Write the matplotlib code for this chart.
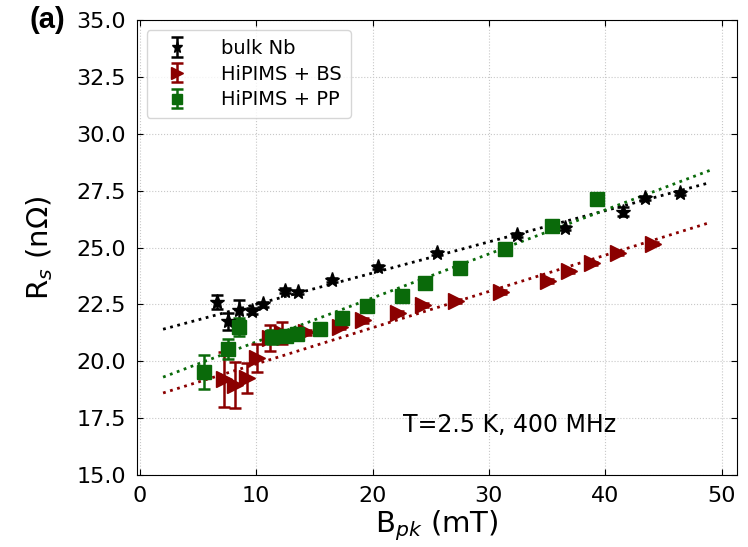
import numpy as np
import matplotlib
matplotlib.use('Agg')
import matplotlib.pyplot as plt

# bulk Nb
nb_b = [6.6, 7.6, 8.5, 9.6, 10.6, 12.5, 13.6, 16.5, 20.5, 25.5, 32.4, 36.5, 41.5, 43.4, 46.4]
nb_r = [22.6, 21.75, 22.25, 22.2, 22.5, 23.1, 23.05, 23.57, 24.14, 24.76, 25.55, 25.86, 26.58, 27.18, 27.4]
nb_e = [0.3, 0.37, 0.45, 0.12, 0.1, 0.1, 0.08, 0.08, 0.08, 0.08, 0.08, 0.1, 0.2, 0.08, 0.08]

# HiPIMS + BS
bs_b = [7.2, 8.2, 9.2, 10.1, 11.2, 12.2, 14.3, 17.2, 19.2, 22.2, 24.3, 27.2, 31.0, 35.1, 36.9, 38.9, 41.1, 44.1]
bs_r = [19.2, 18.96, 19.25, 20.14, 21.0, 21.24, 21.27, 21.5, 21.8, 22.12, 22.47, 22.65, 23.05, 23.52, 23.95, 24.3, 24.76, 25.17]
bs_e = [1.2, 1.0, 0.65, 0.6, 0.57, 0.5, 0.12, 0.1, 0.1, 0.08, 0.08, 0.08, 0.08, 0.08, 0.08, 0.08, 0.08, 0.08]

# HiPIMS + PP
pp_b = [5.5, 7.6, 8.5, 11.4, 12.6, 13.5, 15.5, 17.4, 19.5, 22.5, 24.5, 27.5, 31.4, 35.4, 39.3]
pp_r = [19.53, 20.54, 21.5, 21.07, 21.12, 21.2, 21.4, 21.9, 22.43, 22.87, 23.44, 24.1, 24.95, 25.95, 27.13]
pp_e = [0.75, 0.45, 0.4, 0.3, 0.15, 0.1, 0.1, 0.08, 0.08, 0.08, 0.08, 0.08, 0.08, 0.08, 0.08]

# linear fits (slope, intercept)
fit_nb = (0.1373, 21.13)
fit_bs = (0.1596, 18.28)
fit_pp = (0.1936, 18.91)
fit_x = [2, 49]

fig = plt.figure(figsize=(7.48, 5.47), dpi=100)
ax = fig.add_axes([0.183, 0.132, 0.802, 0.831])

ax.grid(True, ls=':', color='#c8c8c8', lw=0.8)
ax.set_axisbelow(True)

series = [
    (nb_b, nb_r, nb_e, fit_nb, 'black', '*', 11, 'bulk Nb'),
    (bs_b, bs_r, bs_e, fit_bs, '#8b0000', '>', 11, 'HiPIMS + BS'),
    (pp_b, pp_r, pp_e, fit_pp, '#0a6a0a', 's', 10, 'HiPIMS + PP'),
]
for b, r, e, fit, c, m, ms, lab in series:
    ax.errorbar(b, r, yerr=e, fmt=m, color=c, ms=ms, capsize=4.5, elinewidth=1.8,
                capthick=1.8, label=lab, zorder=3)
    fx = np.array(fit_x)
    ax.plot(fx, fit[0] * fx + fit[1], ':', color=c, lw=2, zorder=2)

ax.set_xlim(-0.25, 51.3)
ax.set_ylim(15, 35)
ax.set_xticks([0, 10, 20, 30, 40, 50])
ax.set_yticks(np.arange(15, 35.1, 2.5))
ax.yaxis.set_major_formatter(matplotlib.ticker.FormatStrFormatter('%.1f'))
ax.tick_params(direction='in', top=True, right=True, labelsize=16, length=4)
ax.tick_params(axis='y', pad=8)
ax.tick_params(axis='x', pad=8)
ax.set_xlabel('B$_{pk}$ (mT)', fontsize=21, labelpad=2)
ax.set_ylabel('R$_s$ (n$\\Omega$)', fontsize=21, labelpad=15)

ax.legend(loc='upper left', fontsize=14, handletextpad=1.2, borderpad=0.45,
          labelspacing=0.35, markerscale=0.75, handlelength=2.2)
ax.text(22.6, 17.2, 'T=2.5 K, 400 MHz', fontsize=17, va='center')
fig.text(0.04, 0.963, '(a)', fontsize=21, fontweight='bold', va='center',
         family='Liberation Sans')

fig.savefig('out.png', dpi=100)
